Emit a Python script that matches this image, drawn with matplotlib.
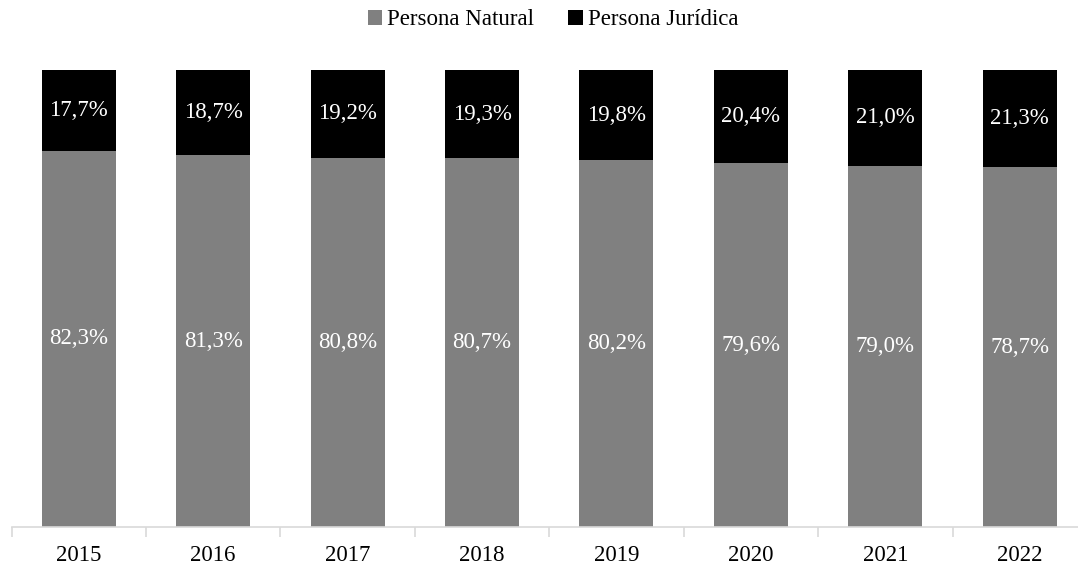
import numpy as np
import matplotlib
matplotlib.use("Agg")
import matplotlib.pyplot as plt

years = ["2015", "2016", "2017", "2018", "2019", "2020", "2021", "2022"]
natural = [82.3, 81.3, 80.8, 80.7, 80.2, 79.6, 79.0, 78.7]
juridica = [17.7, 18.7, 19.2, 19.3, 19.8, 20.4, 21.0, 21.3]

plt.rcParams["font.family"] = ["Liberation Serif", "DejaVu Serif"]

fig = plt.figure(figsize=(10.78, 5.69), dpi=100)
# plot area runs a little past the right edge of the picture, as in the original
ax = fig.add_axes([11.5 / 1078, 1 - 527 / 569, (1087 - 11.5) / 1078, (527 - 70) / 569])

x = np.arange(len(years))
w = 0.55
ax.bar(x, natural, w, color="#808080", label="Persona Natural")
ax.bar(x, juridica, w, bottom=natural, color="#000000", label="Persona Jurídica")

for xi, n, j in zip(x, natural, juridica):
    ax.text(xi, n / 2, f"{n:.1f}%".replace(".", ","), ha="center", va="center",
            color="white", fontsize=16.5)
    ax.text(xi, n + j / 2, f"{j:.1f}%".replace(".", ","), ha="center", va="center",
            color="white", fontsize=16.5)

ax.set_xlim(-0.5, len(years) - 0.5)
ax.set_ylim(0, 100)
ax.set_yticks([])
for s in ["top", "right", "left"]:
    ax.spines[s].set_visible(False)
ax.spines["bottom"].set_color("#d9d9d9")
ax.spines["bottom"].set_linewidth(1.2)

ax.set_xticks(x)
ax.set_xticklabels(years, fontsize=16.5)
ax.tick_params(axis="x", which="major", length=0, pad=13)
ax.set_xticks(np.arange(-0.5, len(years)), minor=True)
ax.tick_params(axis="x", which="minor", length=7, color="#d9d9d9", width=1.2)

fig.legend(loc="upper center", bbox_to_anchor=(0.513, 1.02), ncol=2, frameon=False,
           fontsize=16.5, handlelength=0.65, handleheight=0.65, handletextpad=0.2,
           columnspacing=1.5)

fig.savefig("out.png", dpi=100)
